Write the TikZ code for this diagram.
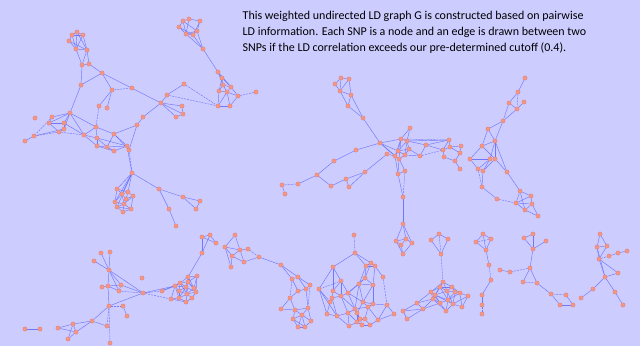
\documentclass[tikz,border=0pt]{standalone}
\usepackage{fontspec}
\setmainfont{Carlito}
\pgfdeclarelayer{bg}
\pgfdeclarelayer{edges}
\pgfsetlayers{bg,edges,main}
\definecolor{bgcol}{RGB}{204,204,255}
\definecolor{edgecol}{RGB}{95,105,250}
\definecolor{snpfill}{RGB}{242,150,135}
\definecolor{snpdraw}{RGB}{228,125,115}
\tikzset{
  snp/.style={circle,fill=snpfill,draw=snpdraw,line width=0.3pt,minimum size=4.3pt,inner sep=0pt},
  edge/.style={draw=edgecol,line width=0.45pt,opacity=0.85},
  dedge/.style={edge,dash pattern=on 2pt off 1pt},
  caption/.style={anchor=base west,inner sep=0pt,font=\fontsize{12}{14}\selectfont}
}
\begin{document}
\begin{tikzpicture}[x=1pt,y=-1pt]
\useasboundingbox (0,0) rectangle (640,346);
\begin{pgfonlayer}{bg}
\fill[bgcol] (0,0) rectangle (640,346);
\end{pgfonlayer}
% ---------------- nodes ----------------
\foreach \n/\x/\y in {
a1/72/35,a2/77/32,a3/83/35,a4/69/41,a5/76/49,a6/87/50,a7/82/65,a8/89/64,a9/81/85,a10/102/73,
a11/112/90,a12/132/88,a13/99/106,a14/107/108,a15/161/103,a16/167/95,a17/184/84,a18/182/106,a19/176/117,a20/183/114,
a21/143/117,a22/137/125,a23/96/127,a24/70/113,a25/52/117,a26/35/118,a27/49/123,a28/64/123,a29/64/129,a30/59/132,
a31/34/136,a32/25/141,a33/84/135,a34/97/138,a35/114/134,a36/97/146,a37/107/147,a38/114/151,a39/127/146,a40/129/150,
a41/132/173,a42/159/189,a43/183/197,a44/200/201,a45/196/209,a46/169/209,a47/176/226,
a48/117/189,a49/122/194,a50/128/192,a51/133/196,a52/115/202,a53/124/204,a54/117/207,a55/131/209,a56/123/212,a57/126/199,
a58/183/21,a59/189/19,a60/200/21,a61/179/27,a62/186/34,a63/193/35,a64/197/31,a65/203/49,a66/218/72,a67/222/78,
a68/223/85,a69/231/87,a70/219/91,a71/227/92,a72/238/96,a73/218/106,a74/230/106,a75/256/92,
b1/341/78,b2/349/79,b3/335/84,b4/340/91,b5/351/95,b6/348/106,b7/363/118,b8/380/143,b9/356/150,b10/334/161,
b11/317/175,b12/298/184,b13/282/185,b14/285/194,b15/331/186,b16/346/179,b17/349/187,b18/365/172,b19/387/154,b20/410/128,
b21/401/139,b22/407/141,b23/409/149,b24/398/151,b25/395/156,b26/399/159,b27/405/155,b28/420/156,b29/426/145,b30/449/140,
b31/443/150,b32/450/147,b33/461/146,b34/444/157,b35/455/161,b36/460/153,b37/460/169,b38/398/174,b39/405/171,b40/403/197,
c1/403/224,c2/396/241,c3/406/239,c4/412/243,c5/401/245,c6/403/254,
d1/525/78,d2/518/92,d3/509/103,d4/524/102,d5/517/109,d6/503/121,d7/488/129,d8/495/141,d9/482/146,d10/470/159,
d11/490/159,d12/495/159,d13/478/169,d14/483/171,d15/507/172,d16/482/187,d17/497/199,d18/520/191,d19/531/196,d20/516/203,
d21/532/204,d22/525/210,d23/538/216,
e1/202/237,e2/210/235,e3/216/243,e4/202/253,e5/235/235,e6/225/247,e7/240/250,e8/248/249,e9/232/256,e10/244/262,
e11/231/267,e12/259/257,e13/110/252,e14/101/253,e15/94/261,e16/109/270,e17/142/278,e18/108/286,e19/102/287,e20/121/285,
e21/119/291,e22/143/293,e23/162/291,e24/109/306,e25/123/306,e26/127/316,e27/92/321,e28/107/326,e29/110/343,e30/73/324,
e31/58/328,e32/76/332,e33/68/339,e34/40/329,e35/25/329,
f1/175/286,f2/180/283,f3/188/277,f4/197/276,f5/188/282,f6/186/287,f7/179/291,f8/194/288,f9/196/292,f10/187/294,
f11/171/299,f12/179/298,f13/192/298,f14/186/302,
g2/281/265,g3/292/279,g4/298/277,g5/306/289,g6/310/285,g7/298/291,g8/290/298,g9/281/309,g10/308/308,
g11/295/310,g12/302/315,g13/293/319,g14/311/321,g15/298/327,g16/305/327,
h1/354/235,h2/355/253,h3/333/267,h4/371/263,h5/375/266,h6/366/266,h7/383/277,h8/365/278,h9/341/281,h10/359/284,
h11/373/285,h12/319/289,h13/333/291,h14/348/293,h15/341/296,h16/332/298,h17/330/302,h18/363/302,h19/373/304,h20/387/305,
h21/368/307,h22/355/309,h23/348/313,h24/337/316,h25/327/314,h26/357/313,h27/394/314,h28/360/319,h29/365/319,h30/378/320,
h31/357/322,h32/370/325,h33/362/325,h34/349/326,
i1/439/234,i2/431/240,i3/448/239,i4/441/254,i5/443/282,i6/440/287,i7/452/287,i8/431/292,i9/447/291,i10/435/295,
i11/455/292,i12/460/293,i13/468/296,i14/433/299,i15/440/303,i16/448/300,i17/453/304,i18/462/307,i19/446/311,i20/417/303,
i21/423/309,i22/403/311,i23/407/319,
k1/483/234,k2/476/242,k3/491/239,k4/486/250,k5/489/265,k6/491/280,k7/482/295,k8/482/305,k9/482/314,
m1/524/238,m2/533/234,m3/546/241,m4/533/249,m5/530/268,m6/500/270,m7/510/272,m8/523/282,m9/537/283,m10/551/294,
m11/566/295,m12/560/305,m13/573/305,
p1/600/234,p2/597/247,p3/607/246,p4/599/259,p5/609/256,p6/618/253,p7/627/251,p8/618/273,p9/605/277,p10/593/289,
p11/581/298,p12/615/292,p13/623/305}
  \node[snp] (\n) at (\x,\y) {};
% ---------------- edges ----------------
\begin{pgfonlayer}{edges}
\foreach \u/\v in {
a1/a2,a2/a3,a1/a4,a1/a3,a4/a5,a1/a5,a2/a5,a3/a6,a2/a6,a5/a6,a3/a5,a4/a6,a6/a7,a6/a8,a5/a7,a7/a8,a8/a10,a7/a9,a9/a10,
a10/a11,a10/a15,a11/a13,a11/a14,a9/a24,a24/a23,a15/a16,a16/a17,a15/a18,a15/a19,a18/a20,a19/a20,a15/a20,a15/a21,a21/a22,
a22/a35,a22/a40,a24/a25,a24/a27,a24/a28,a24/a29,a25/a27,a27/a28,a27/a30,a28/a29,a29/a30,a31/a32,a31/a29,a24/a33,a28/a33,
a23/a33,a23/a34,a23/a35,a33/a34,a34/a36,a34/a37,a35/a37,a35/a39,a36/a37,a37/a38,a38/a39,a39/a40,a36/a38,a35/a40,a33/a36,
a34/a39,a37/a39,a39/a41,a41/a42,a42/a43,a43/a44,a44/a45,a43/a45,a42/a46,a46/a47,
a41/a48,a41/a49,a41/a52,a41/a50,a41/a54,a48/a49,a48/a50,a49/a50,a50/a51,a49/a57,a48/a52,a52/a53,a52/a54,a53/a54,a53/a57,
a57/a51,a51/a55,a55/a56,a53/a56,a54/a56,a53/a55,a50/a57,a49/a53,a54/a55,a51/a53,a49/a52,
a58/a59,a58/a61,a59/a60,a58/a62,a61/a62,a62/a63,a63/a64,a60/a64,a59/a62,a61/a63,a60/a63,a62/a64,a58/a64,a64/a65,a63/a65,
a62/a65,a65/a66,a66/a67,a66/a68,a67/a69,a67/a70,a68/a69,a68/a71,a69/a72,a70/a73,a71/a74,a72/a74,a68/a70,a70/a71,a71/a72,
a69/a71,a73/a74,a67/a68,a66/a69,a73/a71,
b1/b2,b1/b3,b3/b4,b2/b4,b2/b5,b4/b5,b1/b4,b5/b6,b4/b6,b5/b7,b6/b7,b7/b8,b8/b9,b9/b10,b10/b11,b11/b12,b13/b14,b11/b15,
b15/b16,b16/b17,b16/b18,b17/b18,b18/b19,b8/b24,b8/b25,b8/b26,b8/b21,b19/b25,b20/b22,b20/b21,b21/b22,b21/b24,b22/b23,
b23/b24,b24/b25,b25/b26,b26/b27,b27/b23,b22/b27,b21/b26,b23/b28,b22/b29,b27/b28,b28/b29,b29/b30,b29/b31,b30/b32,b31/b32,
b32/b33,b33/b36,b31/b34,b34/b35,b35/b36,b36/b32,b35/b37,b30/b31,b22/b30,b25/b38,b26/b38,b26/b39,b38/b39,b38/b40,
b40/c1,c1/c2,c1/c3,c1/c4,c2/c5,c3/c5,c3/c4,c4/c6,c5/c6,c2/c6,c2/c3,b24/b27,b21/b25,b22/b24,
d1/d2,d2/d3,d3/d5,d4/d5,d3/d6,d5/d6,d6/d7,d6/d8,d7/d9,d7/d8,d8/d9,d8/d11,d8/d12,d9/d10,d9/d12,d10/d13,d10/d11,d11/d13,
d12/d14,d11/d14,d8/d15,d12/d15,d13/d14,d14/d16,d16/d17,d15/d18,d18/d19,d18/d20,d18/d22,d19/d21,d20/d21,d20/d22,d21/d22,
d21/d23,d22/d23,d19/d20,
e1/e2,e1/e3,e2/e3,e1/e4,e2/e4,e4/f3,e5/e6,e5/e7,e6/e7,e6/e9,e7/e8,e7/e9,e7/e10,e9/e10,e9/e11,e10/e12,e11/e6,
e13/e16,e14/e16,e15/e16,e16/e18,e16/e20,e16/e21,e18/e20,e18/e19,e18/e24,e20/e22,e16/e22,e20/e21,e18/e21,e24/e22,e25/e26,
e24/e27,e27/e28,e27/e30,e27/e32,e30/e31,e30/e32,e31/e32,e32/e33,e30/e33,e34/e35,e23/f1,e23/f2,e22/f1,
f1/f2,f1/f7,f1/f11,f2/f3,f2/f5,f2/f6,f3/f4,f3/f5,f4/f5,f4/f8,f5/f6,f5/f8,f6/f7,f6/f10,f7/f12,f8/f9,f9/f10,f9/f13,f10/f12,
f10/f13,f10/f14,f11/f12,f12/f14,f13/f14,f1/f6,f2/f7,f3/f8,f5/f10,f6/f9,f7/f10,f8/f10,f11/f14,f6/f12,f3/f6,f4/f9,f5/f9,
f1/f12,f2/f10,
e12/g2,g2/g3,g2/g4,g3/g4,g4/g5,g4/g6,g5/g6,g3/g7,g7/g5,g5/g10,g8/g9,g8/g11,g9/g11,g10/g12,g10/g14,g11/g12,g11/g13,
g12/g13,g12/g14,g12/g15,g12/g16,g13/g15,g15/g16,g14/g16,g13/g16,g11/g10,g7/g8,
h2/h3,h2/h6,h2/h4,h3/h12,h4/h5,h4/h6,h5/h6,h5/h7,h6/h8,h4/h8,h6/h10,h8/h10,h8/h11,h10/h11,h5/h11,h8/h14,h10/h14,h9/h14,
h9/h13,h12/h17,h12/h24,h12/h25,h13/h15,h13/h16,h14/h15,h15/h16,h16/h17,h14/h22,h15/h23,h10/h18,h11/h18,h11/h19,h18/h19,
h18/h21,h19/h21,h19/h20,h20/h27,h21/h30,h20/h30,h21/h22,h22/h23,h22/h26,h23/h24,h24/h25,h24/h34,h26/h28,h26/h31,h28/h29,
h29/h32,h28/h33,h31/h33,h32/h33,h31/h34,h21/h29,h18/h26,h30/h32,h27/h30,h16/h24,h14/h18,h17/h25,h3/h9,h3/h13,h10/h22,
h23/h34,h22/h28,h23/h31,h15/h22,h9/h15,
i1/i2,i1/i3,i2/i4,i3/i4,i5/i6,i5/i7,i5/i8,i5/i9,i6/i9,i6/i8,i6/i10,i7/i9,i7/i11,i8/i10,i8/i14,i9/i10,i9/i16,i10/i14,
i10/i15,i11/i12,i12/i13,i11/i17,i12/i18,i13/i18,i14/i15,i15/i16,i16/i17,i17/i18,i15/i19,i17/i19,i16/i19,i9/i11,i6/i7,
i10/i16,i14/i19,i11/i16,i7/i12,i13/i17,i8/i20,i14/i20,i20/i21,i20/i22,i21/i22,i22/i23,i21/i23,i15/i21,i14/i21,i8/i15,
i6/i16,i9/i17,i10/i17,i12/i16,i6/i14,
k1/k2,k1/k3,k1/k4,k2/k4,k3/k4,k4/k5,k6/k7,k7/k8,
m1/m2,m1/m4,m2/m4,m3/m4,m4/m5,m6/m7,m5/m8,m5/m9,m9/m10,m10/m12,m11/m13,m12/m13,
p1/p2,p1/p3,p2/p3,p2/p4,p3/p4,p5/p6,p6/p7,p4/p8,p4/p9,p2/p9,p8/p9,p9/p10,p10/p11,p9/p12,p12/p13}
  \draw[edge] (\u) -- (\v);
\foreach \u/\v in {
a11/a12,a13/a23,a16/a73,a17/a73,a30/a31,a25/a31,a30/a33,a40/a41,a72/a75,b12/b13,b28/b31,b21/b30,b39/b40,d2/d5,d13/d16,
d17/d20,e8/e12,e21/e22,e24/e25,e24/e28,e24/e29,e22/e23,e22/f11,g3/g8,g6/g10,h1/h2,h7/h20,h9/h12,i1/i4,i4/i5,k2/k3,k5/k6,
k8/k9,m5/m7,m8/m9,m10/m11,p4/p5}
  \draw[dedge] (\u) -- (\v);
\end{pgfonlayer}
% ---------------- caption ----------------
\node[caption] (t1) at (242.5,19.5) {This weighted undirected LD graph G is constructed based on pairwise};
\node[caption] (t2) at (242.5,35.5) {LD information. Each SNP is a node and an edge is drawn between two};
\node[caption] (t3) at (242.5,51.5) {SNPs if the LD correlation exceeds our pre-determined cutoff (0.4).};
\end{tikzpicture}
\end{document}
